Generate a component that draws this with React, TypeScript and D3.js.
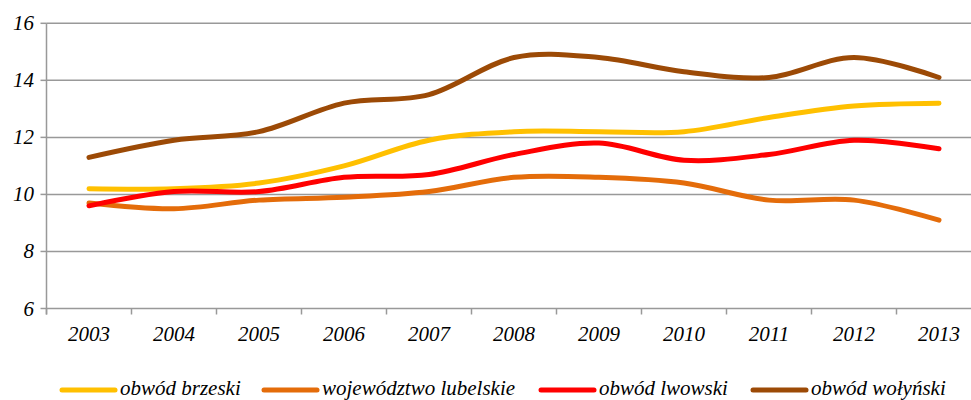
import React from "react";
import * as d3 from "d3";

const years = ["2003", "2004", "2005", "2006", "2007", "2008", "2009", "2010", "2011", "2012", "2013"];
const brzeski = [10.2, 10.2, 10.4, 11.0, 11.9, 12.2, 12.2, 12.2, 12.7, 13.1, 13.2];
const lubelskie = [9.7, 9.5, 9.8, 9.9, 10.1, 10.6, 10.6, 10.4, 9.8, 9.8, 9.1];
const lwowski = [9.6, 10.1, 10.1, 10.6, 10.7, 11.4, 11.8, 11.2, 11.4, 11.9, 11.6];
const wolynski = [11.3, 11.9, 12.2, 13.2, 13.5, 14.8, 14.8, 14.3, 14.1, 14.8, 14.1];
const yTicks = [6, 8, 10, 12, 14, 16];
const seriesNames = ["obwód brzeski", "województwo lubelskie", "obwód lwowski", "obwód wołyński"];

const colors = ["#FFC000", "#E46C0A", "#FF0000", "#9C4A06"];
const legendX = [62, 264, 541, 753];

export default function App() {
  const W = 971, H = 400;
  const left = 46.5, right = 981.5, top = 23.3, bottom = 308.5;
  const x = d3.scaleBand<string>().domain(years).range([left, right]);
  const y = d3.scaleLinear().domain([6, 16]).range([bottom, top]);
  const series = [brzeski, lubelskie, lwowski, wolynski];
  const line = d3
    .line<number>()
    .x((_, i) => (x(years[i]) as number) + x.bandwidth() / 2)
    .y((d) => y(d))
    .curve(d3.curveCatmullRom.alpha(0));
  const textStyle: React.CSSProperties = {
    fontFamily: "Liberation Serif",
    fontStyle: "italic",
    fontSize: "21px",
  };
  const boundaries = d3.range(years.length + 1).map((i) => left + i * x.bandwidth());

  return (
    <svg width={W} height={H} style={{ position: "absolute", left: 0, top: 0, background: "#fff" }}>
      {yTicks.map((t) => (
        <g key={t}>
          {t !== 6 && <line x1={left} x2={W} y1={y(t)} y2={y(t)} stroke="#999" strokeWidth={1.5} />}
          <line x1={left - 6} x2={left} y1={y(t)} y2={y(t)} stroke="#999" strokeWidth={1.5} />
          <text x={34} y={y(t) + 7} textAnchor="end" style={textStyle} fill="#000">
            {t}
          </text>
        </g>
      ))}
      <line x1={left} x2={left} y1={top} y2={bottom + 6} stroke="#999" strokeWidth={1.5} />
      <line x1={left} x2={W} y1={bottom} y2={bottom} stroke="#999" strokeWidth={1.5} />
      {boundaries.map((b, i) => (
        <line key={i} x1={b} x2={b} y1={bottom} y2={bottom + 6} stroke="#999" strokeWidth={1.5} />
      ))}
      {years.map((yr) => (
        <text
          key={yr}
          x={(x(yr) as number) + x.bandwidth() / 2}
          y={341}
          textAnchor="middle"
          style={textStyle}
          fill="#000"
        >
          {yr}
        </text>
      ))}
      {series.map((s, i) => (
        <path
          key={i}
          d={line(s) as string}
          fill="none"
          stroke={colors[i]}
          strokeWidth={5}
          strokeLinecap="round"
          strokeLinejoin="round"
        />
      ))}
      {seriesNames.map((n, i) => (
        <g key={n}>
          <line
            x1={legendX[i]}
            x2={legendX[i] + 53}
            y1={390}
            y2={390}
            stroke={colors[i]}
            strokeWidth={5}
            strokeLinecap="round"
          />
          <text x={legendX[i] + 58} y={395} style={textStyle} fill="#000">
            {n}
          </text>
        </g>
      ))}
    </svg>
  );
}
